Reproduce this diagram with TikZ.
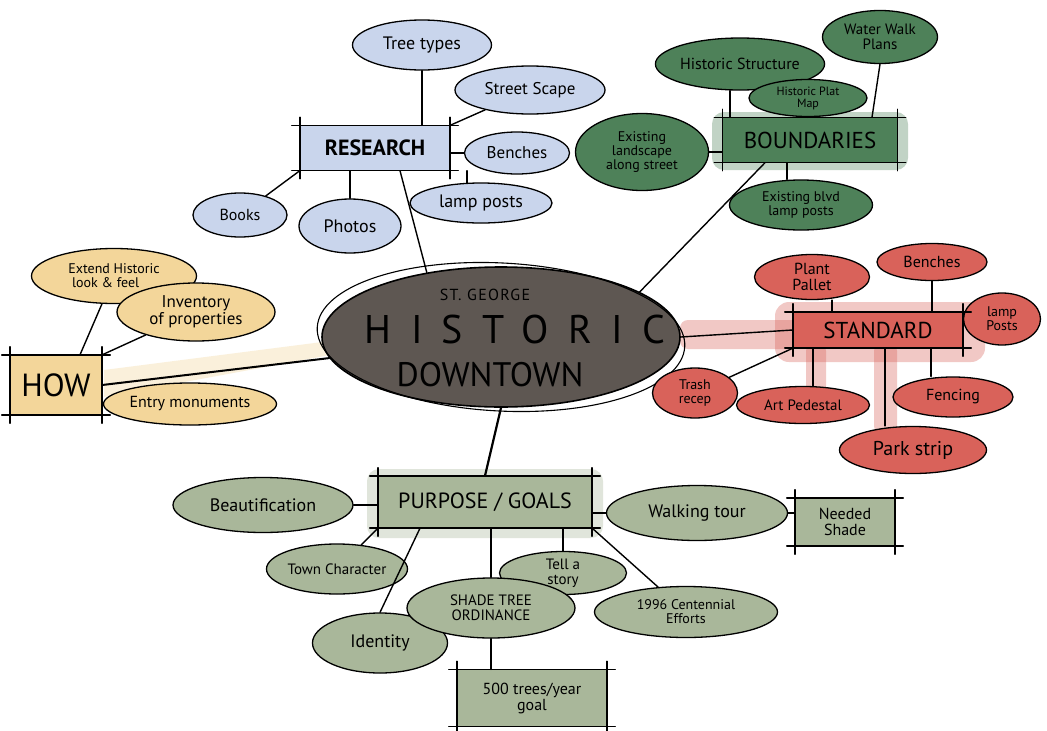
\documentclass[tikz,border=0pt]{standalone}
\usepackage{fontspec}
\setmainfont{PT Sans}
\usetikzlibrary{shapes.geometric}
\definecolor{cblue}{HTML}{C9D5EC}
\definecolor{cgreen}{HTML}{4E8159}
\definecolor{cyel}{HTML}{F3D69A}
\definecolor{cred}{HTML}{D9625A}
\definecolor{csage}{HTML}{A9B79A}
\definecolor{chub}{HTML}{5E5752}
\newcommand\fs[1]{\fontsize{#1}{#1}\selectfont}
\newcommand\skbox[1]{%
 \draw[skl] ([xshift=-8pt]#1.north west) -- ([xshift=8pt]#1.north east);
 \draw[skl] ([xshift=-8pt]#1.south west) -- ([xshift=8pt]#1.south east);
 \draw[skl] ([yshift=8pt]#1.north west) -- ([yshift=-8pt]#1.south west);
 \draw[skl] ([yshift=8pt]#1.north east) -- ([yshift=-8pt]#1.south east);}
\begin{document}
\begin{tikzpicture}[x=1pt,y=-1pt,
 bub/.style={ellipse, draw=black, line width=1.3pt, inner sep=0pt, align=center},
 bx/.style={rectangle, inner sep=0pt, align=center},
 skl/.style={line width=1.5pt, black, line cap=round},
 ln/.style={line width=1.4pt, black, line cap=round},
 wash/.style={opacity=0.35}]
\useasboundingbox (0,0) rectangle (1047,731);
\fill[white] (0,0) rectangle (1047,731);
% washes
\fill[cred, wash, rounded corners=8pt] (680,320) rectangle (800,349);
\fill[cred, wash, rounded corners=14pt] (775,302) rectangle (985,362);
\fill[cred, wash, rounded corners=6pt] (874,345) rectangle (897,432);
\fill[cred, wash, rounded corners=6pt] (806,345) rectangle (826,392);
\fill[cyel, wash] (104,370) -- (330,341) -- (330,355) -- (104,397) -- cycle;
\fill[cgreen, wash, rounded corners=12pt] (712,112) rectangle (908,170);
\fill[csage, wash, rounded corners=12pt] (367,469) rectangle (603,538);
% research
\node[bub, fill=cblue, minimum width=139pt, minimum height=50pt, font=\fs{18}] (tree) at (422,45) {Tree types};
\node[bub, fill=cblue, minimum width=150pt, minimum height=48pt, font=\fs{17}] (street) at (530,90) {Street Scape};
\node[bx, fill=cblue, minimum width=150pt, minimum height=45pt, font=\fs{22}\bfseries] (research) at (375,148) {RESEARCH};
\node[bub, fill=cblue, minimum width=105pt, minimum height=42pt, font=\fs{17}] (benches) at (517,153) {Benches};
\node[bub, fill=cblue, minimum width=94pt, minimum height=44pt, font=\fs{16}] (books) at (240,215) {Books};
\node[bub, fill=cblue, minimum width=102pt, minimum height=54pt, font=\fs{18}] (photos) at (350,226) {Photos};
\node[bub, fill=cblue, minimum width=142pt, minimum height=40pt, font=\fs{18}] (lamp) at (481,203) {lamp posts};
\skbox{research}
% boundaries
\node[bub, fill=cgreen, minimum width=164pt, minimum height=52pt, font=\fs{16}] (hstruct) at (740,64) {Historic Structure};
\node[bub, fill=cgreen, minimum width=115pt, minimum height=53pt, font=\fs{15}] (water) at (880,37) {Water Walk\\Plans};
\node[bub, fill=cgreen, minimum width=118pt, minimum height=37pt, font=\fs{12}] (plat) at (808,98) {Historic Plat\\Map};
\node[bx, fill=cgreen, minimum width=175pt, minimum height=45pt, font=\fs{23}] (bound) at (810,140) {BOUNDARIES};
\node[bub, fill=cgreen, minimum width=133pt, minimum height=77pt, font=\fs{14}] (exland) at (642,152) {Existing\\landscape\\along street};
\node[bub, fill=cgreen, minimum width=143pt, minimum height=50pt, font=\fs{14}] (exblvd) at (801,205) {Existing blvd\\lamp posts};
\skbox{bound}
% how
\node[bub, fill=cyel, minimum width=165pt, minimum height=55pt, font=\fs{14}, align=left] (extend) at (114,276) {Extend Historic\\\ look \& feel};
\node[bub, fill=cyel, minimum width=158pt, minimum height=58pt, font=\fs{17}] (inventory) at (196,312) {Inventory\\of properties};
\node[bx, fill=cyel, minimum width=92pt, minimum height=60pt, font=\fs{32}] (how) at (56,385) {HOW};
\node[bub, fill=cyel, minimum width=173pt, minimum height=42pt, font=\fs{16}] (entry) at (190,404) {Entry monuments};
\skbox{how}
% hub
\node[ellipse, draw=black, line width=1.6pt, fill=chub, minimum width=358pt, minimum height=140pt, inner sep=0pt] (hub) at (501,337) {};
\draw[line width=1.1pt] (hub.center) ellipse [x radius=184, y radius=74, rotate=-3];
\node[font=\fs{16}\addfontfeature{LetterSpace=8}, inner sep=0pt] (stg) at (485,295) {ST. GEORGE};
\node[font=\fs{40}\addfontfeature{LetterSpace=48}, inner sep=0pt] (hist) at (515,329) {HISTORIC};
\node[font=\fs{34}, inner sep=0pt] (down) at (490,375) {DOWNTOWN};
% standard
\node[bub, fill=cred, minimum width=115pt, minimum height=45pt, font=\fs{16}] (plant) at (812,277) {Plant\\Pallet};
\node[bub, fill=cred, minimum width=110pt, minimum height=37pt, font=\fs{16}] (benches2) at (932,262) {Benches};
\node[bub, fill=cred, minimum width=77pt, minimum height=52pt, font=\fs{14}] (lamp2) at (1002,319) {lamp\\Posts};
\node[bx, fill=cred, minimum width=170pt, minimum height=36pt, font=\fs{23}] (std) at (878,330) {STANDARD};
\node[bub, fill=cred, minimum width=85pt, minimum height=50pt, font=\fs{14}] (trash) at (695,393) {Trash\\recep};
\node[bub, fill=cred, minimum width=133pt, minimum height=37pt, font=\fs{15}] (art) at (803,405) {Art Pedestal};
\node[bub, fill=cred, minimum width=120pt, minimum height=40pt, font=\fs{16}] (fence) at (953,397) {Fencing};
\node[bub, fill=cred, minimum width=147pt, minimum height=47pt, font=\fs{20}] (park) at (913,450) {Park strip};
\skbox{std}
% purpose
\node[bub, fill=csage, minimum width=180pt, minimum height=55pt, font=\fs{18}] (beaut) at (263,505) {Beautification};
\node[bx, fill=csage, minimum width=214pt, minimum height=52pt, font=\fs{22}] (purpose) at (485,502) {PURPOSE / GOALS};
\node[bub, fill=csage, minimum width=181pt, minimum height=55pt, font=\fs{18}] (walk) at (697,513) {Walking tour};
\node[bx, fill=csage, minimum width=100pt, minimum height=48pt, font=\fs{16}] (shade) at (845,522) {Needed\\Shade};
\node[bub, fill=csage, minimum width=141pt, minimum height=50pt, font=\fs{15}] (town) at (337,569) {Town Character};
\node[bub, fill=csage, minimum width=127pt, minimum height=43pt, font=\fs{15}] (tell) at (563,573) {Tell a\\story};
\node[bub, fill=csage, minimum width=183pt, minimum height=51pt, font=\fs{14}] (cent) at (686,612) {1996 Centennial\\Efforts};
\node[bub, fill=csage, minimum width=135pt, minimum height=60pt, font=\fs{18}] (ident) at (380,643) {Identity};
\node[bub, fill=csage, minimum width=168pt, minimum height=60pt, font=\fs{15}] (shadetree) at (491,608) {SHADE TREE\\ORDINANCE};
\node[bx, fill=csage, minimum width=150pt, minimum height=57pt, font=\fs{16}] (goal) at (532,698) {500 trees/year\\goal};
\skbox{purpose}
\skbox{shade}
\skbox{goal}
% connectors research
\draw[ln] (tree.south) -- (tree.south |- research.north);
\draw[ln] (street) -- (research.north east);
\draw[ln] (benches.west) -- (benches.west -| research.east);
\draw[ln] (books) -- (research.south west);
\draw[ln] (photos.north) -- (photos.north |- research.south);
\draw[ln] (lamp.125) -- (lamp.125 |- research.south);
\draw[ln] ([xshift=25pt]research.south) -- (hub.139);
% connectors boundaries
\draw[ln] ([xshift=-10pt]hstruct.south) -- ([xshift=-10pt]hstruct.south |- bound.north);
\draw[ln] (water.south) -- ([xshift=-8pt]water.south |- bound.north);
\draw[ln] (plat.south) -- (plat.south |- bound.north);
\draw[ln] (exland.east) -- (exland.east -| bound.west);
\draw[ln] ([xshift=-14pt]exblvd.north) -- ([xshift=-14pt]exblvd.north |- bound.south);
\draw[ln] ([xshift=-45pt]bound.south) -- (hub.18);
% connectors how
\draw[ln] (extend) -- ([xshift=24pt]how.north);
\draw[ln] (inventory) -- (how.north east);
\draw[ln] (entry.west) -- (entry.west -| how.east);
\draw[line width=2pt, line cap=round] (how.east) -- (hub.187);
% connectors standard
\draw[ln] (hub.east) -- (std.west);
\draw[ln] ([xshift=20pt]plant.south) -- ([xshift=20pt]plant.south |- std.north);
\draw[ln] (benches2.south) -- (benches2.south |- std.north);
\draw[ln] (lamp2.west) -- (lamp2.west -| std.east);
\draw[ln] (trash) -- (std.south west);
\draw[ln] ([xshift=10pt]art.north) -- ([xshift=10pt]art.north |- std.south);
\draw[ln] ([xshift=-22pt]fence.north) -- ([xshift=-22pt]fence.north |- std.south);
\draw[ln] ([xshift=-28pt]park.north) -- ([xshift=-28pt]park.north |- std.south);
% connectors purpose
\draw[line width=2.2pt] (hub.south) -- (purpose.north);
\draw[ln] (beaut.east) -- (beaut.east -| purpose.west);
\draw[ln] (walk.west) -- (walk.west -| purpose.east);
\draw[ln] (walk.east) -- (walk.east -| shade.west);
\draw[ln] (town) -- (purpose.south west);
\draw[ln] (ident.north) -- ([xshift=-65pt]purpose.south);
\draw[ln] (shadetree.north) -- (shadetree.north |- purpose.south);
\draw[ln] (tell.north) -- (tell.north |- purpose.south);
\draw[ln] (cent) -- (purpose.south east);
\draw[ln] (shadetree.south) -- (shadetree.south |- goal.north);
\end{tikzpicture}
\end{document}
